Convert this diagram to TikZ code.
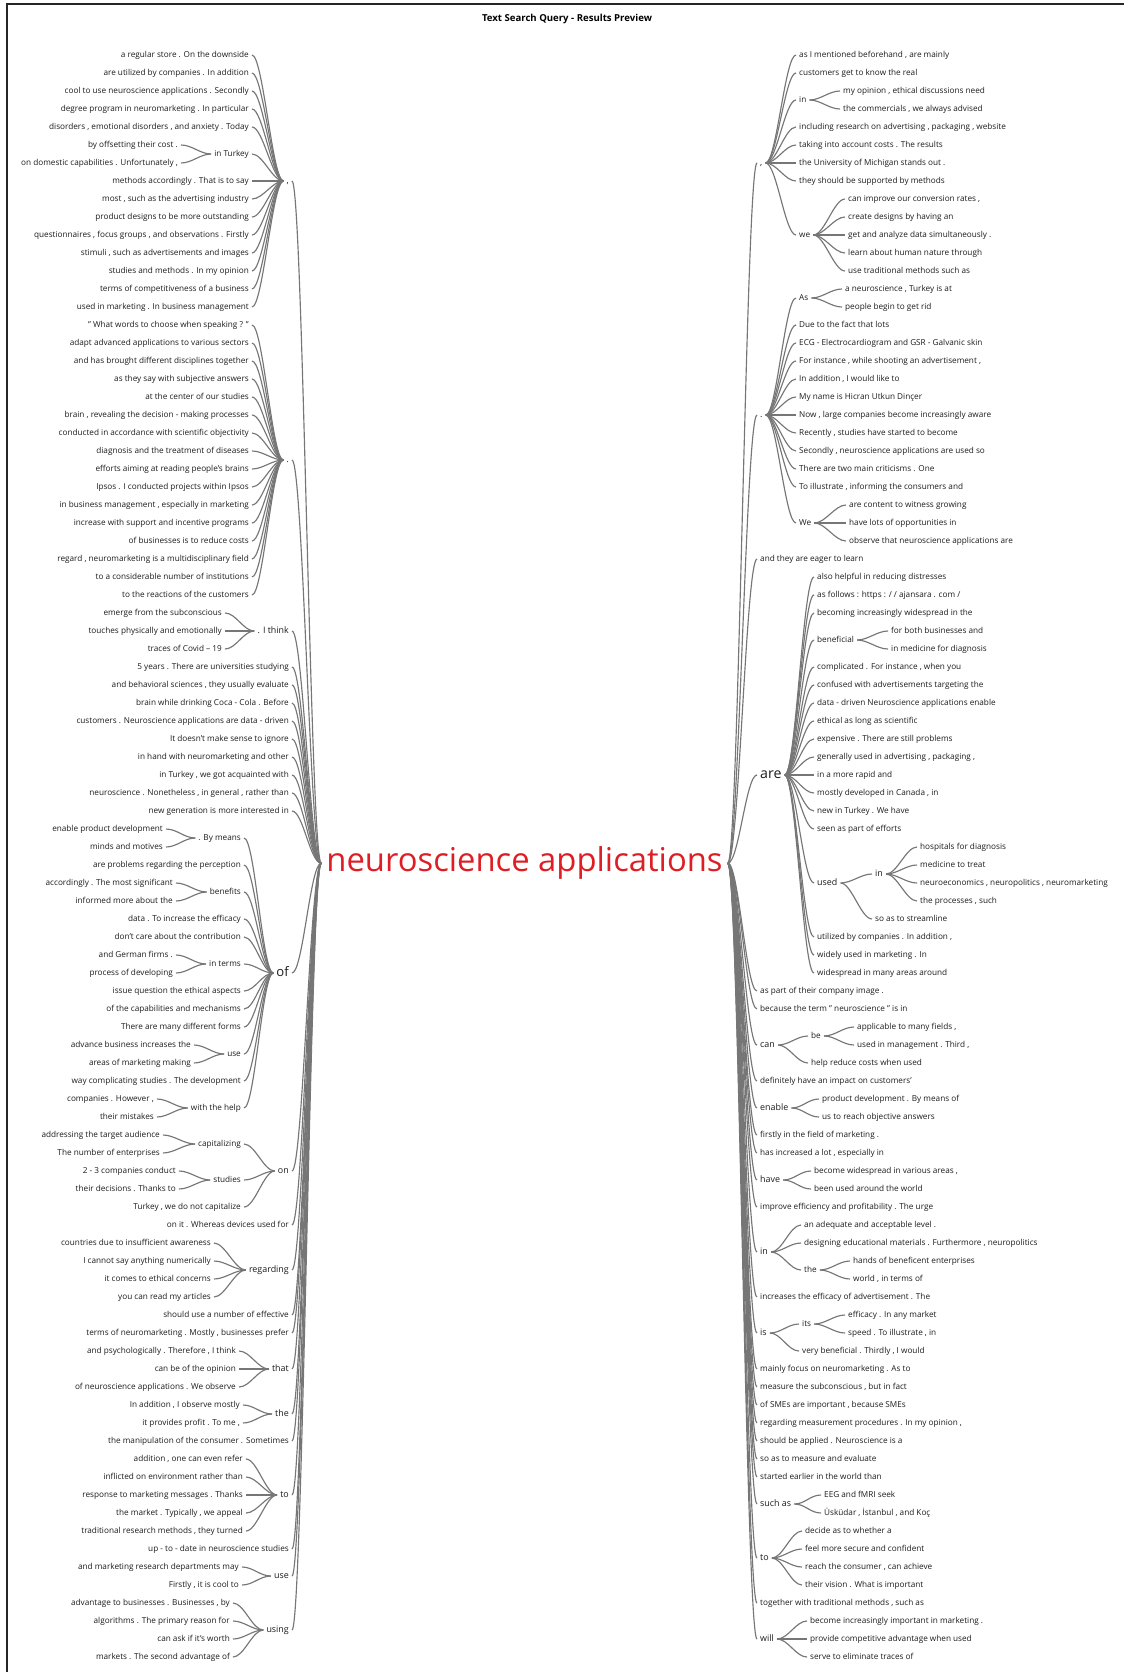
\documentclass[tikz,border=0pt]{standalone}
\usepackage{fontspec}
\setmainfont{Open Sans}
\usepackage{tikz}
\definecolor{wordgray}{RGB}{28,28,28}
\definecolor{linkgray}{RGB}{118,118,118}
\definecolor{rootred}{RGB}{222,30,36}

\begin{document}
\begin{tikzpicture}[x=1pt,y=-18pt,
  word/.style={text=wordgray,inner xsep=0pt,inner ysep=1pt,font=\fontsize{8.2}{9.5}\selectfont,text height=6pt,text depth=1.8pt},
  hub/.style={word,font=\fontsize{8.9}{10.5}\selectfont,text height=6.5pt,text depth=2pt},
  big/.style={word,font=\fontsize{13.1}{15.5}\selectfont,text height=9.5pt,text depth=2.9pt},
  lw/.style={word,anchor=east},
  rw/.style={word,anchor=west},
  lhub/.style={hub,anchor=east},
  rhub/.style={hub,anchor=west},
  toleft/.style={draw=linkgray,line width=1.15pt,out=180,in=0,distance=14pt,shorten <=3pt,shorten >=3pt},
  toright/.style={toleft,out=0,in=180},
  frame/.style={draw=black!85,line width=1.3pt}]
\useasboundingbox (0,-2.0556) rectangle (1125,90.8333);
\draw[frame] (7,90.8333) |- (1124,-1.83);
\node[font=\bfseries\fontsize{9.6}{11}\selectfont] (title) at (567,-1) {Text Search Query - Results Preview};
\node[text=rootred,font=\fontsize{32.8}{39}\selectfont,inner xsep=2pt,text height=23.5pt,text depth=7.2pt] (root) at (524.5,45.9) {neuroscience applications};

% left half: hubs
\node[lhub] (lcomma) at (289,8) {,};
\node[lw] (lturkey) at (249,6.5) {in Turkey};
\node[lhub] (ldot) at (289,23.5) {.};
\node[lhub] (lthink) at (289,33) {. I think};
\node[big,anchor=east] (lof) at (289,52) {of};
\node[lw] (lmeans) at (241,44.5) {. By means};
\node[lw] (lbenefits) at (241,47.5) {benefits};
\node[lw] (lterms) at (241,51.5) {in terms};
\node[lw] (luse) at (241,56.5) {use};
\node[lw] (lhelp) at (241,59.5) {with the help};
\node[lhub] (lon) at (289,63) {on};
\node[lw] (lcapital) at (241,61.5) {capitalizing};
\node[lw] (lstudies) at (241,63.5) {studies};
\node[lhub] (lregarding) at (289,68.5) {regarding};
\node[lhub] (lthat) at (289,74) {that};
\node[lhub] (lthe) at (289,76.5) {the};
\node[lhub] (lto) at (289,81) {to};
\node[lhub] (luse2) at (289,85.5) {use};
\node[lhub] (lusing) at (289,88.5) {using};

% left half: leaves, one loop per column
\foreach \row/\txt in {1/{a regular store . On the downside},2/{are utilized by companies . In addition},
    3/{cool to use neuroscience applications . Secondly},4/{degree program in neuromarketing . In particular},
    5/{disorders , emotional disorders , and anxiety . Today},8/{methods accordingly . That is to say},
    9/{most , such as the advertising industry},10/{product designs to be more outstanding},
    11/{questionnaires , focus groups , and observations . Firstly},12/{stimuli , such as advertisements and images},
    13/{studies and methods . In my opinion},14/{terms of competitiveness of a business},
    15/{used in marketing . In business management},16/{" What words to choose when speaking ? "},
    17/{adapt advanced applications to various sectors},18/{and has brought different disciplines together},
    19/{as they say with subjective answers},20/{at the center of our studies},
    21/{brain , revealing the decision - making processes},22/{conducted in accordance with scientific objectivity},
    23/{diagnosis and the treatment of diseases},24/{efforts aiming at reading people's brains},
    25/{Ipsos . I conducted projects within Ipsos},26/{in business management , especially in marketing},
    27/{increase with support and incentive programs},28/{of businesses is to reduce costs},
    29/{regard , neuromarketing is a multidisciplinary field},30/{to a considerable number of institutions},
    31/{to the reactions of the customers}}
  \node[lw] (l\row) at (249,\row) {\txt};
\foreach \row/\txt in {6/{by offsetting their cost .},7/{on domestic capabilities . Unfortunately ,}}
  \node[lw] (l\row) at (178,\row) {\txt};
\foreach \row/\txt in {32/{emerge from the subconscious},33/{touches physically and emotionally},34/{traces of Covid – 19}}
  \node[lw] (l\row) at (222,\row) {\txt};
\foreach \row/\txt in {35/{5 years . There are universities studying},36/{and behavioral sciences , they usually evaluate},
    37/{brain while drinking Coca - Cola . Before},38/{customers . Neuroscience applications are data - driven},
    39/{It doesn't make sense to ignore},40/{in hand with neuromarketing and other},
    41/{in Turkey , we got acquainted with},42/{neuroscience . Nonetheless , in general , rather than},
    43/{new generation is more interested in},66/{on it . Whereas devices used for},
    71/{should use a number of effective},72/{terms of neuromarketing . Mostly , businesses prefer},
    78/{the manipulation of the consumer . Sometimes},84/{up - to - date in neuroscience studies}}
  \node[lw] (l\row) at (289,\row) {\txt};
\foreach \row/\txt in {46/{are problems regarding the perception},49/{data . To increase the efficacy},
    50/{don't care about the contribution},53/{issue question the ethical aspects},
    54/{of the capabilities and mechanisms},55/{There are many different forms},
    58/{way complicating studies . The development},65/{Turkey , we do not capitalize}}
  \node[lw] (l\row) at (241,\row) {\txt};
\foreach \row/\x/\txt in {44/163/{enable product development},45/163/{minds and motives},
    47/173/{accordingly . The most significant},48/173/{informed more about the},
    51/173/{and German firms .},52/173/{process of developing},
    56/191/{advance business increases the},57/191/{areas of marketing making},
    59/154/{companies . However ,},60/154/{their mistakes},
    61/160/{addressing the target audience},62/160/{The number of enterprises},
    63/176/{2 - 3 companies conduct},64/176/{their decisions . Thanks to},
    67/211/{countries due to insufficient awareness},68/211/{I cannot say anything numerically},
    69/211/{it comes to ethical concerns},70/211/{you can read my articles},
    73/236/{and psychologically . Therefore , I think},74/236/{can be of the opinion},
    75/236/{of neuroscience applications . We observe},
    76/240/{In addition , I observe mostly},77/240/{it provides profit . To me ,},
    79/243/{addition , one can even refer},80/243/{inflicted on environment rather than},
    81/243/{response to marketing messages . Thanks},82/243/{the market . Typically , we appeal},
    83/243/{traditional research methods , they turned},
    85/239/{and marketing research departments may},86/239/{Firstly , it is cool to},
    87/230/{advantage to businesses . Businesses , by},88/230/{algorithms . The primary reason for},
    89/230/{can ask if it's worth},90/230/{markets . The second advantage of}}
  \node[lw] (l\row) at (\x,\row) {\txt};

% left half: links
\foreach \kid in {lcomma,ldot,lthink,l35,l36,l37,l38,l39,l40,l41,l42,l43,lof,lon,l66,
    lregarding,l71,l72,lthat,lthe,l78,lto,l84,luse2,lusing}
  \draw[toleft] (root.west) to (\kid.east);
\foreach \hub/\kids in {lcomma/{l1,l2,l3,l4,l5,lturkey,l8,l9,l10,l11,l12,l13,l14,l15},
    lturkey/{l6,l7},
    ldot/{l16,l17,l18,l19,l20,l21,l22,l23,l24,l25,l26,l27,l28,l29,l30,l31},
    lthink/{l32,l33,l34},
    lof/{lmeans,l46,lbenefits,l49,l50,lterms,l53,l54,l55,luse,l58,lhelp},
    lmeans/{l44,l45},lbenefits/{l47,l48},lterms/{l51,l52},luse/{l56,l57},lhelp/{l59,l60},
    lon/{lcapital,lstudies,l65},lcapital/{l61,l62},lstudies/{l63,l64},
    lregarding/{l67,l68,l69,l70},lthat/{l73,l74,l75},lthe/{l76,l77},
    lto/{l79,l80,l81,l82,l83},luse2/{l85,l86},lusing/{l87,l88,l89,l90}}
  \foreach \kid in \kids \draw[toleft] (\hub.west) to (\kid.east);

% right half: hubs
\node[rhub] (rcomma) at (760,7) {,};
\node[rw] (rin) at (799,3.5) {in};
\node[rw] (rwe) at (799,11) {we};
\node[rhub] (rdot) at (760,21) {.};
\node[rw] (ras) at (799,14.5) {As};
\node[rw] (rwe2) at (799,27) {We};
\node[big,anchor=west,font=\fontsize{14.2}{17}\selectfont] (rare) at (760,41) {are};
\node[rw] (rbeneficial) at (817,33.5) {beneficial};
\node[rhub] (rused) at (817,47) {used};
\node[rhub] (rusedin) at (875,46.5) {in};
\node[rhub] (rcan) at (760,56) {can};
\node[rw] (rbe) at (811,55.5) {be};
\node[rhub] (renable) at (760,59.5) {enable};
\node[rhub] (rhave) at (760,63.5) {have};
\node[rhub] (rin2) at (760,67.5) {in};
\node[rw] (rthe) at (804,68.5) {the};
\node[rhub] (ris) at (760,72) {is};
\node[rw] (rits) at (802,71.5) {its};
\node[rhub] (rsuchas) at (760,81.5) {such as};
\node[rhub] (rto) at (760,84.5) {to};
\node[rhub] (rwill) at (760,89) {will};

% right half: leaves
\foreach \row/\txt in {1/{as I mentioned beforehand , are mainly},2/{customers get to know the real},
    5/{including research on advertising , packaging , website},6/{taking into account costs . The results},
    7/{the University of Michigan stands out .},8/{they should be supported by methods},
    16/{Due to the fact that lots},17/{ECG - Electrocardiogram and GSR - Galvanic skin},
    18/{For instance , while shooting an advertisement ,},19/{In addition , I would like to},
    20/{My name is Hicran Utkun Dinçer},21/{Now , large companies become increasingly aware},
    22/{Recently , studies have started to become},23/{Secondly , neuroscience applications are used so},
    24/{There are two main criticisms . One},25/{To illustrate , informing the consumers and}}
  \node[rw] (r\row) at (799,\row) {\txt};
\foreach \row/\txt in {29/{and they are eager to learn},53/{as part of their company image .},
    54/{because the term " neuroscience " is in},58/{definitely have an impact on customers'},
    61/{firstly in the field of marketing .},62/{has increased a lot , especially in},
    65/{improve efficiency and profitability . The urge},70/{increases the efficacy of advertisement . The},
    74/{mainly focus on neuromarketing . As to},75/{measure the subconscious , but in fact},
    76/{of SMEs are important , because SMEs},77/{regarding measurement procedures . In my opinion ,},
    78/{should be applied . Neuroscience is a},79/{so as to measure and evaluate},
    80/{started earlier in the world than},87/{together with traditional methods , such as}}
  \node[rw] (r\row) at (760,\row) {\txt};
\foreach \row/\txt in {30/{also helpful in reducing distresses},31/{as follows : https : / / ajansara . com /},
    32/{becoming increasingly widespread in the},35/{complicated . For instance , when you},
    36/{confused with advertisements targeting the},37/{data - driven Neuroscience applications enable},
    38/{ethical as long as scientific},39/{expensive . There are still problems},
    40/{generally used in advertising , packaging ,},41/{in a more rapid and},
    42/{mostly developed in Canada , in},43/{new in Turkey . We have},
    44/{seen as part of efforts},50/{utilized by companies . In addition ,},
    51/{widely used in marketing . In},52/{widespread in many areas around}}
  \node[rw] (r\row) at (817,\row) {\txt};
\foreach \row/\x/\txt in {3/843/{my opinion , ethical discussions need},4/843/{the commercials , we always advised},
    9/848/{can improve our conversion rates ,},10/848/{create designs by having an},
    11/848/{get and analyze data simultaneously .},12/848/{learn about human nature through},
    13/848/{use traditional methods such as},
    14/845/{a neuroscience , Turkey is at},15/845/{people begin to get rid},
    26/849/{are content to witness growing},27/849/{have lots of opportunities in},
    28/849/{observe that neuroscience applications are},
    33/891/{for both businesses and},34/891/{in medicine for diagnosis},
    45/920/{hospitals for diagnosis},46/920/{medicine to treat},
    47/920/{neuroeconomics , neuropolitics , neuromarketing},48/920/{the processes , such},
    49/875/{so as to streamline},
    55/857/{applicable to many fields ,},56/857/{used in management . Third ,},
    57/811/{help reduce costs when used},
    59/822/{product development . By means of},60/822/{us to reach objective answers},
    63/814/{become widespread in various areas ,},64/814/{been used around the world},
    66/804/{an adequate and acceptable level .},67/804/{designing educational materials . Furthermore , neuropolitics},
    68/853/{hands of beneficent enterprises},69/853/{world , in terms of},
    71/848/{efficacy . In any market},72/848/{speed . To illustrate , in},
    73/802/{very beneficial . Thirdly , I would},
    81/824/{EEG and fMRI seek},82/824/{Üsküdar , İstanbul , and Koç},
    83/805/{decide as to whether a},84/805/{feel more secure and confident},
    85/805/{reach the consumer , can achieve},86/805/{their vision . What is important},
    88/810/{become increasingly important in marketing .},89/810/{provide competitive advantage when used},
    90/810/{serve to eliminate traces of}}
  \node[rw] (r\row) at (\x,\row) {\txt};

% right half: links
\foreach \kid in {rcomma,rdot,r29,rare,r53,r54,rcan,r58,renable,r61,r62,rhave,r65,rin2,r70,
    ris,r74,r75,r76,r77,r78,r79,r80,rsuchas,rto,r87,rwill}
  \draw[toright] (root.east) to (\kid.west);
\foreach \hub/\kids in {rcomma/{r1,r2,rin,r5,r6,r7,r8,rwe},rin/{r3,r4},rwe/{r9,r10,r11,r12,r13},
    rdot/{ras,r16,r17,r18,r19,r20,r21,r22,r23,r24,r25,rwe2},ras/{r14,r15},rwe2/{r26,r27,r28},
    rare/{r30,r31,r32,rbeneficial,r35,r36,r37,r38,r39,r40,r41,r42,r43,r44,rused,r50,r51,r52},
    rbeneficial/{r33,r34},rused/{rusedin,r49},rusedin/{r45,r46,r47,r48},
    rcan/{rbe,r57},rbe/{r55,r56},renable/{r59,r60},rhave/{r63,r64},
    rin2/{r66,r67,rthe},rthe/{r68,r69},ris/{rits,r73},rits/{r71,r72},
    rsuchas/{r81,r82},rto/{r83,r84,r85,r86},rwill/{r88,r89,r90}}
  \foreach \kid in \kids \draw[toright] (\hub.east) to (\kid.west);
\end{tikzpicture}
\end{document}
